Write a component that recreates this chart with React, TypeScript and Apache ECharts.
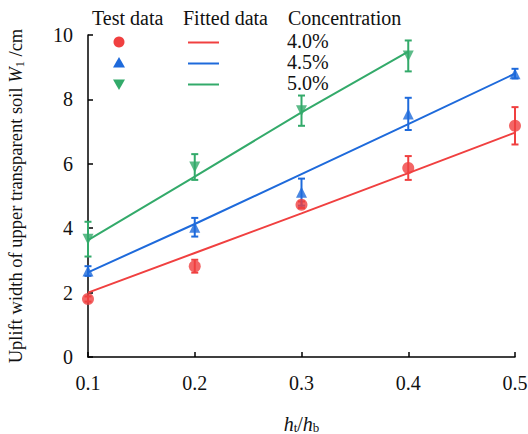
import React, { useEffect, useRef } from "react";
import * as echarts from "echarts";

const xValues = [0.1, 0.2, 0.3, 0.4, 0.5];
const xTicks = ["0.1", "0.2", "0.3", "0.4", "0.5"];
const yTicks = [0, 2, 4, 6, 8, 10];

const concentrations = ["4.0%", "4.5%", "5.0%"];

const testRed = [1.8, 2.82, 4.73, 5.87, 7.18];
const errRed = [0.08, 0.2, 0.1, 0.37, 0.58];
const testBlue = [2.67, 4.03, 5.12, 7.55, 8.8];
const errBlue = [0.15, 0.29, 0.42, 0.5, 0.15];
const testGreen = [3.66, 5.9, 7.65, 9.35];
const errGreen = [0.54, 0.4, 0.47, 0.48];

const fitRed = [2.0, 3.23, 4.46, 5.71, 6.97];
const fitBlue = [2.63, 4.13, 5.68, 7.23, 8.8];
const fitGreen = [3.63, 5.6, 7.6, 9.48];

const RED = "#F04040";
const BLUE = "#1E6ADB";
const GREEN = "#33AA6A";
const FONT = "'Liberation Serif', 'Times New Roman', serif";
const FS = 20;
const TITLE_FS = 18.5;

function pts(vals: number[]) {
  return vals.map((v, i) => [xValues[i], v]);
}
function errPts(vals: number[], errs: number[]) {
  return vals.map((v, i) => [xValues[i], v, errs[i]]);
}

function errorSeries(vals: number[], errs: number[], color: string) {
  return {
    type: "custom",
    data: errPts(vals, errs),
    z: 3,
    renderItem: (params: any, api: any) => {
      const x = api.value(0);
      const y = api.value(1);
      const e = api.value(2);
      const top = api.coord([x, y + e]);
      const bot = api.coord([x, y - e]);
      const hw = 3.5;
      const st = { stroke: color, lineWidth: 2 };
      return {
        type: "group",
        children: [
          { type: "line", shape: { x1: top[0], y1: top[1], x2: bot[0], y2: bot[1] }, style: st },
          { type: "line", shape: { x1: top[0] - hw, y1: top[1], x2: top[0] + hw, y2: top[1] }, style: st },
          { type: "line", shape: { x1: bot[0] - hw, y1: bot[1], x2: bot[0] + hw, y2: bot[1] }, style: st },
        ],
      };
    },
  };
}

function scatterSeries(vals: number[], color: string, symbol: string, rotate: number, size: number) {
  return {
    type: "scatter",
    data: pts(vals),
    symbol,
    symbolRotate: rotate,
    symbolSize: size,
    itemStyle: { color },
    z: 4,
  };
}

function fitSeries(vals: number[], color: string) {
  return {
    type: "line",
    data: pts(vals),
    showSymbol: false,
    symbol: "none",
    lineStyle: { color, width: 2 },
    z: 5,
  };
}

export default function App() {
  const ref = useRef<HTMLDivElement>(null);
  useEffect(() => {
    document.body.style.margin = "0";
    if (!ref.current) return;
    const chart = echarts.init(ref.current, null, { renderer: "svg" });
    const colors = [RED, BLUE, GREEN];
    const rowsY = [42, 63, 84];
    const legendGraphics: any[] = [
      { type: "text", left: 92, top: 8, style: { text: "Test data", font: `${FS}px ${FONT}`, fill: "#111" } },
      { type: "text", left: 183, top: 8, style: { text: "Fitted data", font: `${FS}px ${FONT}`, fill: "#111" } },
      { type: "text", left: 288, top: 8, style: { text: "Concentration", font: `${FS}px ${FONT}`, fill: "#111" } },
      { type: "circle", shape: { cx: 119, cy: rowsY[0], r: 5.5 }, style: { fill: RED } },
      { type: "polygon", shape: { points: [[119, rowsY[1] - 6], [125, rowsY[1] + 4.5], [113, rowsY[1] + 4.5]] }, style: { fill: BLUE } },
      { type: "polygon", shape: { points: [[119, rowsY[2] + 6], [125, rowsY[2] - 4.5], [113, rowsY[2] - 4.5]] }, style: { fill: GREEN } },
    ];
    concentrations.forEach((c, i) => {
      legendGraphics.push({
        type: "line",
        shape: { x1: 188, y1: rowsY[i] + 0.5, x2: 219, y2: rowsY[i] + 0.5 },
        style: { stroke: colors[i], lineWidth: 2 },
      });
      legendGraphics.push({
        type: "text",
        left: 287,
        top: rowsY[i] - 11,
        style: { text: c, font: `${FS}px ${FONT}`, fill: "#111" },
      });
    });

    chart.setOption({
      animation: false,
      backgroundColor: "#fff",
      grid: { left: 88, right: 13, top: 35, bottom: 77, outerBoundsMode: "none", containLabel: false },
      xAxis: {
        type: "value",
        min: 0.1,
        max: 0.5,
        interval: 0.1,
        name: "{i|h}{s|t}{n|/}{i|h}{s|b}",
        nameLocation: "middle",
        nameGap: 56,
        nameTextStyle: {
          rich: {
            i: { fontFamily: FONT, fontSize: FS, fontStyle: "italic", color: "#111" },
            n: { fontFamily: FONT, fontSize: FS, color: "#111" },
            s: { fontFamily: FONT, fontSize: 13, color: "#111", verticalAlign: "bottom", padding: [8, 0, 0, 0] },
          },
        },
        axisLine: { show: true, lineStyle: { color: "#000", width: 1.5 } },
        axisTick: { show: true, inside: true, length: 5, lineStyle: { color: "#000", width: 1.5 } },
        axisLabel: {
          margin: 16,
          fontFamily: FONT,
          fontSize: FS,
          color: "#111",
          formatter: (v: number) => {
            const idx = Math.round((v - 0.1) * 10);
            return xTicks[idx] ?? "";
          },
        },
        splitLine: { show: false },
      },
      yAxis: {
        type: "value",
        min: yTicks[0],
        max: yTicks[yTicks.length - 1],
        interval: 2,
        name: "{n|Uplift width of upper transparent soil }{i|W}{s|1}{n| /cm}",
        nameLocation: "middle",
        nameGap: 62,
        nameRotate: 90,
        nameTextStyle: {
          rich: {
            i: { fontFamily: FONT, fontSize: TITLE_FS, fontStyle: "italic", color: "#111" },
            n: { fontFamily: FONT, fontSize: TITLE_FS, color: "#111" },
            s: { fontFamily: FONT, fontSize: 12.5, color: "#111", verticalAlign: "bottom", padding: [8, 0, 0, 0] },
          },
        },
        axisLine: { show: true, lineStyle: { color: "#000", width: 1.5 } },
        axisTick: { show: true, inside: true, length: 5, lineStyle: { color: "#000", width: 1.5 } },
        axisLabel: { margin: 15, fontFamily: FONT, fontSize: FS, color: "#111" },
        splitLine: { show: false },
      },
      graphic: legendGraphics,
      series: [
        fitSeries(fitRed, RED),
        fitSeries(fitBlue, BLUE),
        fitSeries(fitGreen, GREEN),
        errorSeries(testRed, errRed, RED),
        errorSeries(testBlue, errBlue, BLUE),
        errorSeries(testGreen, errGreen, GREEN),
        scatterSeries(testRed, RED, "circle", 0, 12),
        scatterSeries(testBlue, BLUE, "triangle", 0, 11),
        scatterSeries(testGreen, GREEN, "triangle", 180, 11),
      ],
    });
    return () => chart.dispose();
  }, []);
  return <div ref={ref} style={{ width: 528, height: 434 }} />;
}
